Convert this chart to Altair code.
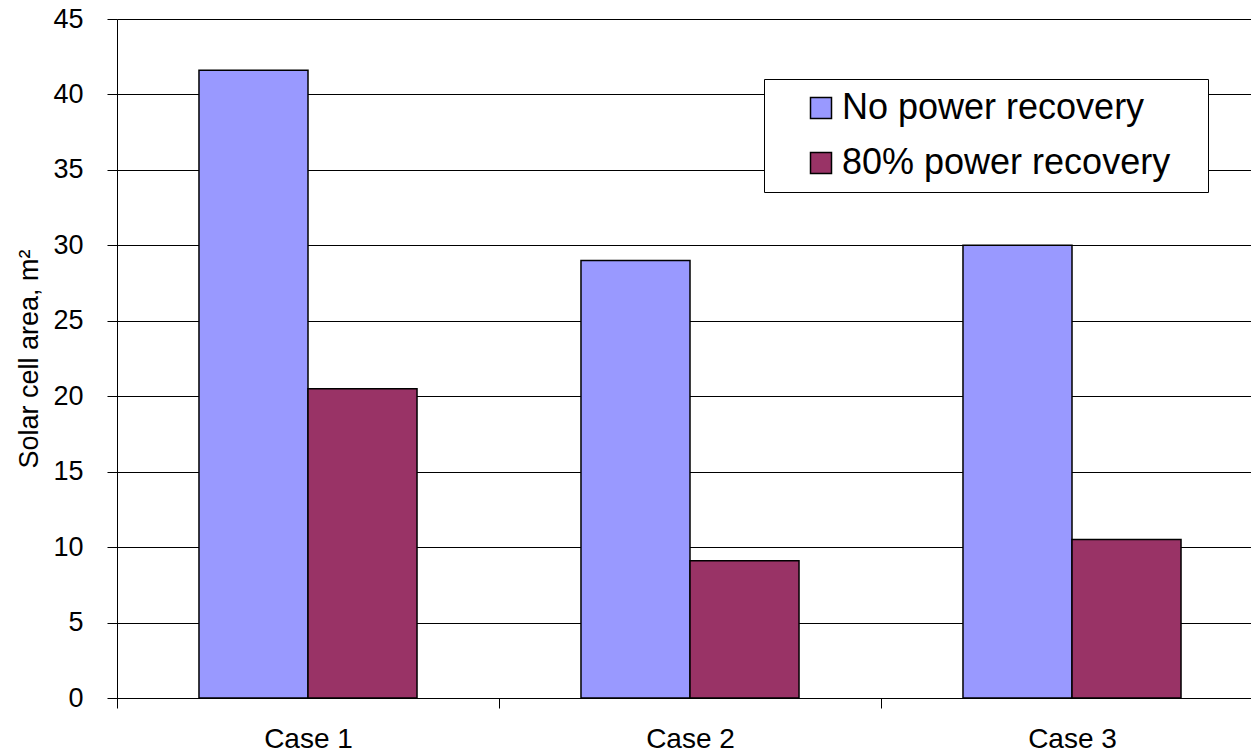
import altair as alt
import pandas as pd

cases = ["Case 1", "Case 2", "Case 3"]
series = ["No power recovery", "80% power recovery"]
no_recovery = [41.6, 29.0, 30.0]
recovery_80 = [20.5, 9.1, 10.5]
colors = ["#9999FF", "#993366"]
y_ticks = list(range(0, 46, 5))

rows = []
for c, a, b in zip(cases, no_recovery, recovery_80):
    rows.append({"case": c, "series": series[0], "value": a})
    rows.append({"case": c, "series": series[1], "value": b})
df = pd.DataFrame(rows)

FONT = "Liberation Sans"

chart = alt.Chart(df).mark_bar(stroke="black", strokeWidth=1.5).encode(
    x=alt.X(
        "case:N",
        sort=cases,
        scale=alt.Scale(range=[0, 1146], paddingInner=0, paddingOuter=0),
        axis=alt.Axis(
            title=None, labelAngle=0, labelFontSize=28, labelFont=FONT,
            labelColor="black", tickBand="extent", tickSize=10,
            tickColor="black", domainColor="black", labelPadding=17,
            grid=False,
        ),
    ),
    xOffset=alt.XOffset(
        "series:N", sort=series,
        scale=alt.Scale(paddingOuter=0.752, paddingInner=0),
    ),
    y=alt.Y(
        "value:Q",
        scale=alt.Scale(domain=[0, 45], nice=False),
        axis=alt.Axis(
            title="Solar cell area, m²", titleFontSize=27, titleFont=FONT,
            titleFontWeight="normal", titleColor="black", titlePadding=9,
            values=y_ticks, labelFontSize=27, labelFont=FONT,
            labelColor="black", tickSize=10, tickColor="black",
            domainColor="black", labelPadding=24, grid=True,
            gridColor="black", gridWidth=1,
        ),
    ),
    color=alt.Color(
        "series:N", sort=series,
        scale=alt.Scale(domain=series, range=colors),
        legend=alt.Legend(
            title=None, orient="none", legendX=647, legendY=60,
            fillColor="white", strokeColor="black", padding=11,
            symbolOffset=28, symbolType="square", symbolSize=441,
            symbolStrokeColor="black", symbolStrokeWidth=1.5,
            labelFontSize=36, labelFont=FONT, labelColor="black",
            rowPadding=19, labelOffset=3, labelLimit=600,
            labelExpr="datum.label + '\u2800'",
        ),
    ),
).properties(
    width=1134, height=679,
    autosize=alt.AutoSizeParams(type="none"),
    padding={"left": 117, "top": 19, "right": 0, "bottom": 56},
).configure_view(stroke=None).configure(background="white")

chart.save("out.html", embed_options={"renderer": "svg", "actions": False})
